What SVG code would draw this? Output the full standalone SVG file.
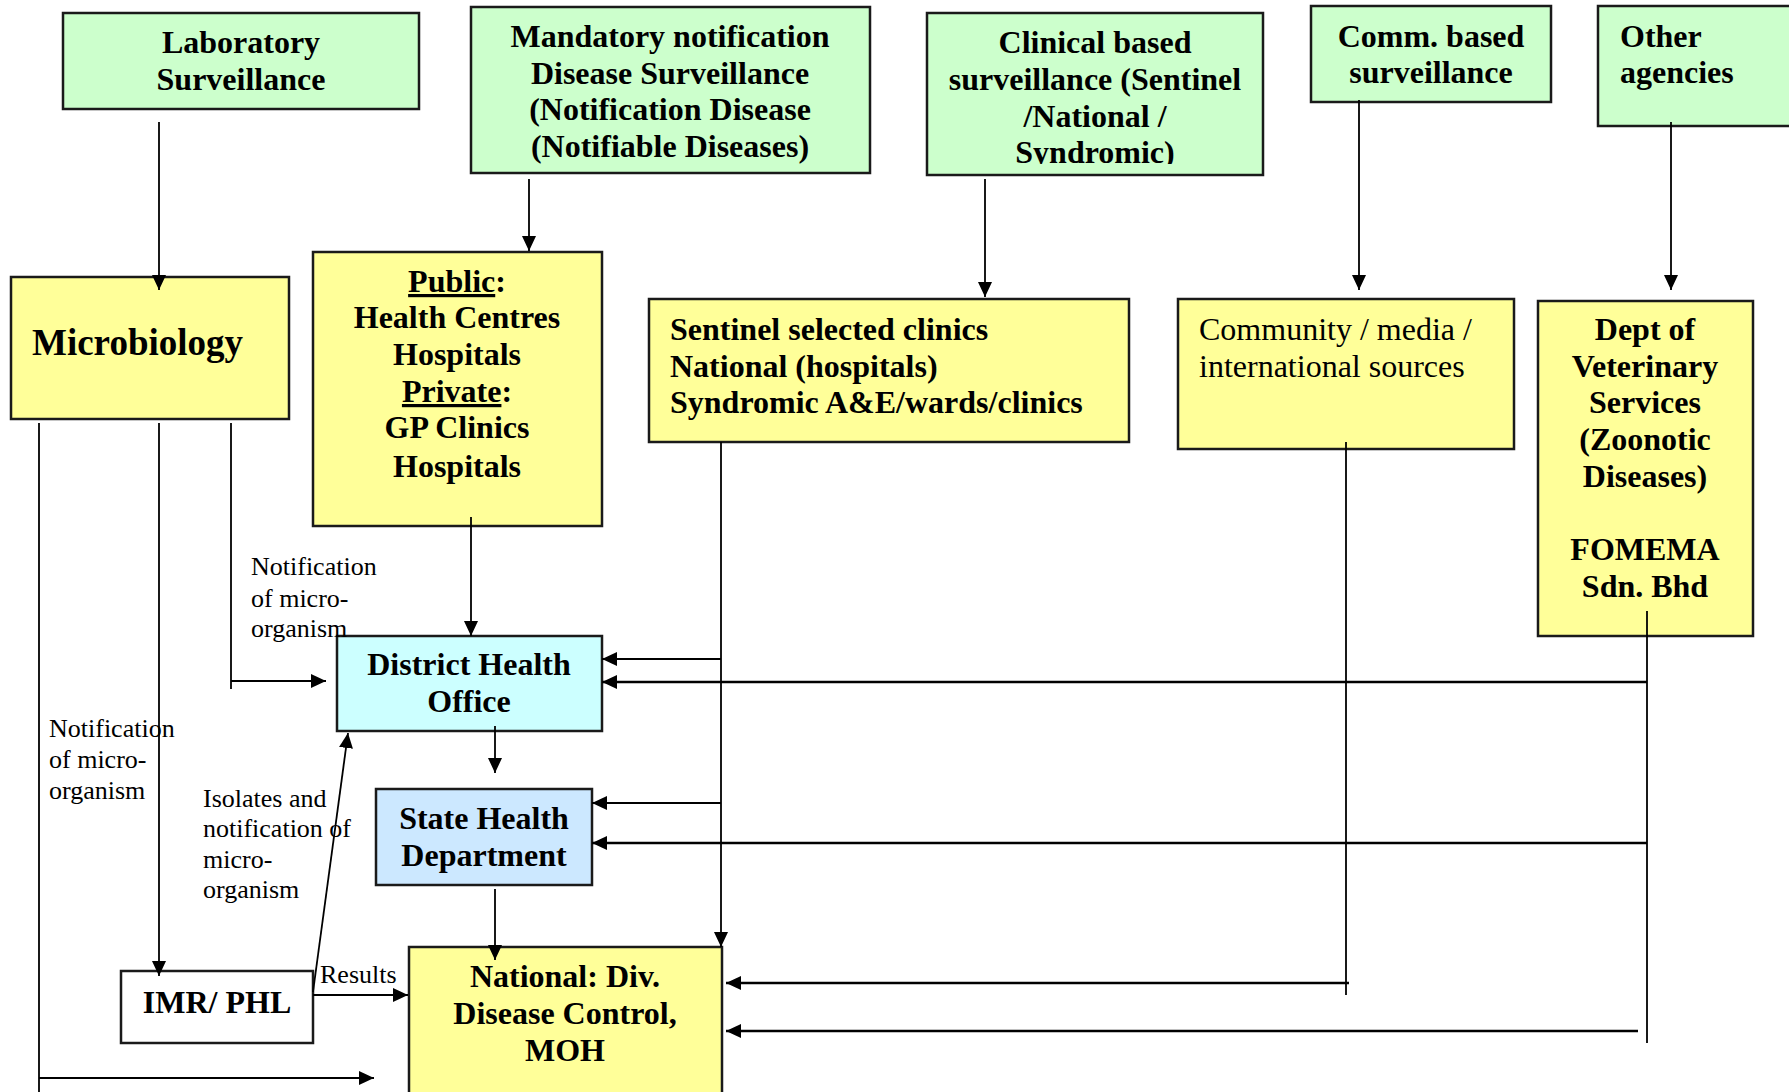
<svg xmlns="http://www.w3.org/2000/svg" width="1789" height="1092" viewBox="0 0 1789 1092">
  <style>
    .box { stroke: #1a1a1a; stroke-width: 2.5; }
    .green { fill: #ccffcc; }
    .yellow { fill: #ffff99; }
    .cyan { fill: #ccffff; }
    .blue { fill: #cce8ff; }
    .white { fill: #ffffff; }
    .t { font-family: "Liberation Serif", "Times New Roman", serif; font-weight: bold; font-size: 32px; fill: #000; }
    .r { font-family: "Liberation Serif", "Times New Roman", serif; font-size: 32px; fill: #000; }
    .lbl { font-family: "Liberation Serif", "Times New Roman", serif; font-size: 26px; fill: #000; }
    .mid { text-anchor: middle; }
    .ln { fill: none; stroke: #000; stroke-width: 1.8; }
    .ln2 { fill: none; stroke: #000; stroke-width: 2.4; }
    .arr { marker-end: url(#ah); }
  </style>
  <defs>
    <marker id="ah" markerUnits="userSpaceOnUse" markerWidth="16" markerHeight="14" refX="15" refY="7" orient="auto">
      <path d="M0,0 L15,7 L0,14 z" fill="#000"/>
    </marker>
    <clipPath id="clinClip">
      <rect x="926" y="12" width="337" height="152"/>
    </clipPath>
  </defs>

  <!-- top row: surveillance sources -->
  <g id="lab-surveillance">
    <rect class="box green" x="63" y="13" width="356" height="96"/>
    <text class="t mid" x="241" y="53">Laboratory</text>
    <text class="t mid" x="241" y="90">Surveillance</text>
  </g>
  <g id="mandatory-notification">
    <rect class="box green" x="471" y="7" width="399" height="166"/>
    <text class="t mid" x="670" y="47">Mandatory notification</text>
    <text class="t mid" x="670" y="84">Disease Surveillance</text>
    <text class="t mid" x="670" y="120">(Notification Disease</text>
    <text class="t mid" x="670" y="157">(Notifiable Diseases)</text>
  </g>
  <g id="clinical-surveillance">
    <rect class="box green" x="927" y="13" width="336" height="162"/>
    <g clip-path="url(#clinClip)">
      <text class="t mid" x="1095" y="53">Clinical based</text>
      <text class="t mid" x="1095" y="90">surveillance (Sentinel</text>
      <text class="t mid" x="1095" y="127">/National /</text>
      <text class="t mid" x="1095" y="163">Syndromic)</text>
    </g>
  </g>
  <g id="comm-surveillance">
    <rect class="box green" x="1311" y="6" width="240" height="96"/>
    <text class="t mid" x="1431" y="47">Comm. based</text>
    <text class="t mid" x="1431" y="83">surveillance</text>
  </g>
  <g id="other-agencies">
    <rect class="box green" x="1598" y="6" width="210" height="120"/>
    <text class="t" x="1620" y="47">Other</text>
    <text class="t" x="1620" y="83">agencies</text>
  </g>

  <!-- second row: reporting sources -->
  <g id="microbiology">
    <rect class="box yellow" x="11" y="277" width="278" height="142"/>
    <text class="t" x="32" y="355" style="font-size:37px">Microbiology</text>
  </g>
  <g id="public-private">
    <rect class="box yellow" x="313" y="252" width="289" height="274"/>
    <text class="t mid" x="457" y="292"><tspan text-decoration="underline">Public</tspan>:</text>
    <text class="t mid" x="457" y="328">Health Centres</text>
    <text class="t mid" x="457" y="365">Hospitals</text>
    <text class="t mid" x="457" y="402"><tspan text-decoration="underline">Private</tspan>:</text>
    <text class="t mid" x="457" y="438">GP Clinics</text>
    <text class="t mid" x="457" y="477">Hospitals</text>
  </g>
  <g id="sentinel-clinics">
    <rect class="box yellow" x="649" y="299" width="480" height="143"/>
    <text class="t" x="670" y="340">Sentinel selected clinics</text>
    <text class="t" x="670" y="377">National (hospitals)</text>
    <text class="t" x="670" y="413">Syndromic A&amp;E/wards/clinics</text>
  </g>
  <g id="community-sources">
    <rect class="box yellow" x="1178" y="299" width="336" height="150"/>
    <text class="r" x="1199" y="340">Community / media /</text>
    <text class="r" x="1199" y="377">international sources</text>
  </g>
  <g id="veterinary">
    <rect class="box yellow" x="1538" y="301" width="215" height="335"/>
    <text class="t mid" x="1645" y="340">Dept of</text>
    <text class="t mid" x="1645" y="377">Veterinary</text>
    <text class="t mid" x="1645" y="413">Services</text>
    <text class="t mid" x="1645" y="450">(Zoonotic</text>
    <text class="t mid" x="1645" y="487">Diseases)</text>
    <text class="t mid" x="1645" y="560">FOMEMA</text>
    <text class="t mid" x="1645" y="597">Sdn. Bhd</text>
  </g>

  <!-- health offices -->
  <g id="district-health-office">
    <rect class="box cyan" x="337" y="636" width="265" height="95"/>
    <text class="t mid" x="469" y="675">District Health</text>
    <text class="t mid" x="469" y="712">Office</text>
  </g>
  <g id="state-health-department">
    <rect class="box blue" x="376" y="789" width="216" height="96"/>
    <text class="t mid" x="484" y="829">State Health</text>
    <text class="t mid" x="484" y="866">Department</text>
  </g>
  <g id="national-moh">
    <rect class="box yellow" x="409" y="947" width="313" height="150"/>
    <text class="t mid" x="565" y="987">National: Div.</text>
    <text class="t mid" x="565" y="1024">Disease Control,</text>
    <text class="t mid" x="565" y="1061">MOH</text>
  </g>
  <g id="imr-phl">
    <rect class="box white" x="121" y="971" width="192" height="72"/>
    <text class="t mid" x="217" y="1013">IMR/ PHL</text>
  </g>

  <!-- edge labels -->
  <g id="labels">
    <text class="lbl" x="251" y="575">Notification</text>
    <text class="lbl" x="251" y="607">of micro-</text>
    <text class="lbl" x="251" y="637">organism</text>
    <text class="lbl" x="49" y="737">Notification</text>
    <text class="lbl" x="49" y="768">of micro-</text>
    <text class="lbl" x="49" y="799">organism</text>
    <text class="lbl" x="203" y="807">Isolates and</text>
    <text class="lbl" x="203" y="837">notification of</text>
    <text class="lbl" x="203" y="868">micro-</text>
    <text class="lbl" x="203" y="898">organism</text>
    <text class="lbl" x="320" y="983">Results</text>
  </g>

  <!-- connectors -->
  <g id="connectors">
    <!-- sources down to reporting level -->
    <path class="ln arr" d="M159,122 V290"/>
    <path class="ln arr" d="M529,179 V251"/>
    <path class="ln arr" d="M985,179 V297"/>
    <path class="ln arr" d="M1359,100 V290"/>
    <path class="ln arr" d="M1671,122 V290"/>

    <!-- microbiology outputs -->
    <path class="ln" d="M39,423 V1092"/>
    <path class="ln arr" d="M39,1078 H374"/>
    <path class="ln arr" d="M159,423 V976"/>
    <path class="ln" d="M231,423 V689"/>
    <path class="ln arr" d="M231,681 H326"/>

    <!-- IMR/PHL -->
    <path class="ln arr" d="M313,992 L348,733"/>
    <path class="ln arr" d="M313,995 H408"/>

    <!-- public/private chain -->
    <path class="ln arr" d="M471,517 V636"/>
    <path class="ln arr" d="M495,726 V773"/>
    <path class="ln arr" d="M495,889 V960"/>

    <!-- sentinel clinics -->
    <path class="ln arr" d="M721,442 V947"/>
    <path class="ln arr" d="M721,659 H602"/>
    <path class="ln arr" d="M721,803 H592"/>

    <!-- community sources -->
    <path class="ln" d="M1346,442 V995"/>
    <path class="ln2 arr" d="M1349,983 H726"/>

    <!-- veterinary / FOMEMA -->
    <path class="ln" d="M1647,611 V1043"/>
    <path class="ln2 arr" d="M1647,682 H602"/>
    <path class="ln2 arr" d="M1647,843 H592"/>
    <path class="ln2 arr" d="M1638,1031 H726"/>
  </g>
</svg>
